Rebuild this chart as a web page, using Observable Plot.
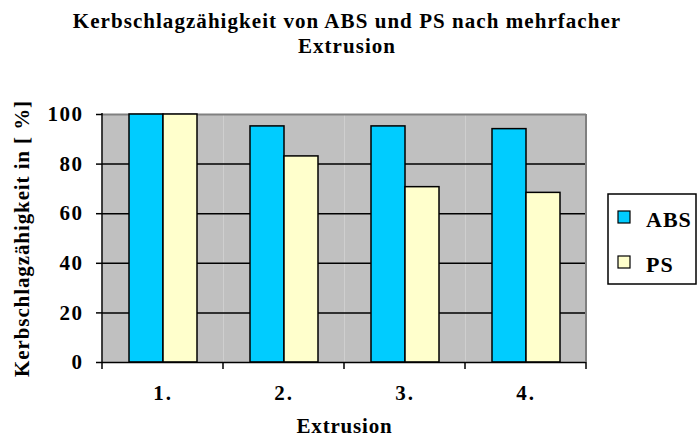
<!DOCTYPE html>
<html><head><meta charset="utf-8">
<script src="https://cdn.jsdelivr.net/npm/d3@7"></script>
<script src="https://cdn.jsdelivr.net/npm/@observablehq/plot@0.6"></script>
<style>
body{margin:0;background:#fff;}
#chart svg{font-family:"Liberation Serif","Times New Roman",serif;font-weight:bold;}
#chart g[aria-label="y-axis tick label"] text{letter-spacing:1.5px;}
#chart g[aria-label="fx-axis tick label"] text{letter-spacing:2px;}
#chart g[aria-label="y-axis label"] text{letter-spacing:0.9px;}
#chart g[aria-label="fx-axis label"] text{letter-spacing:0.8px;}
#chart .title{letter-spacing:1.05px;}
#chart .legend text{letter-spacing:1px;}
</style></head><body><div id="chart"></div>
<script>
const categories = ["1.","2.","3.","4."];
const series = ["ABS","PS"];
const absValues = [100, 95.2, 95.2, 94.1];
const psValues = [100, 83.1, 70.7, 68.4];
const yTicks = [0, 20, 40, 60, 80, 100];
const colors = ["#00ccff", "#ffffcc"];
const titleLines = ["Kerbschlagzähigkeit von ABS und PS nach mehrfacher", "Extrusion"];
const xLabel = "Extrusion";
const yLabel = "Kerbschlagzähigkeit in [ %]";

const data = categories.flatMap((c, i) => [
  {cat: c, series: "ABS", value: absValues[i]},
  {cat: c, series: "PS", value: psValues[i]}
]);

const W = 697, H = 436, mL = 101, mR = 110, mT = 114, mB = 74;
const plot = Plot.plot({
  width: W, height: H, marginLeft: mL, marginRight: mR, marginTop: mT, marginBottom: mB,
  style: {fontFamily: "Liberation Serif", fontWeight: "bold", fontSize: "20px", background: "white", overflow: "visible"},
  fx: {domain: categories, padding: 0},
  x: {domain: series, paddingInner: 0, paddingOuter: 0.743, axis: null},
  y: {domain: [0, 100]},
  color: {domain: series, range: colors},
  marks: [
    Plot.frame({fill: "#c0c0c0", stroke: null}),
    Plot.gridY(yTicks.slice(1, -1), {stroke: "black", strokeOpacity: 1, strokeWidth: 1.5}),
    Plot.ruleY([100], {stroke: "#808080", strokeWidth: 2}),
    Plot.barY(data, {fx: "cat", x: "series", y: "value", fill: "series", stroke: "black", strokeWidth: 1.5}),
    Plot.ruleY([0], {stroke: "black", strokeWidth: 1.5}),
    Plot.axisY(yTicks, {tickSize: 6, tickPadding: 13, stroke: "black", strokeWidth: 1.5, fontSize: 21,
      label: yLabel, labelAnchor: "center", labelOffset: 88, labelArrow: false}),
    Plot.axisFx({anchor: "bottom", tickSize: 0, tickPadding: 23, fontSize: 21,
      label: xLabel, labelAnchor: "center", labelOffset: 70, labelArrow: false})
  ]
});

const svg = d3.select(plot);
const fx = plot.scale("fx");
const ys = plot.scale("y");
const y0 = ys.apply(0), y100 = ys.apply(100);
const bounds = categories.map(c => fx.apply(c)).concat([fx.apply(categories[categories.length - 1]) + fx.bandwidth]);

const g = svg.append("g");
// right border
g.append("line").attr("x1", bounds[bounds.length - 1]).attr("x2", bounds[bounds.length - 1])
  .attr("y1", y100).attr("y2", y0).attr("stroke", "#808080").attr("stroke-width", 2);
// left axis line
g.append("line").attr("x1", bounds[0]).attr("x2", bounds[0])
  .attr("y1", y100 - 1).attr("y2", y0).attr("stroke", "black").attr("stroke-width", 1.5);
// category boundary ticks
g.selectAll("line.bt").data(bounds).join("line").attr("class", "bt")
  .attr("x1", d => d).attr("x2", d => d).attr("y1", y0).attr("y2", y0 + 7)
  .attr("stroke", "black").attr("stroke-width", 1.5);

// title
svg.append("text").attr("class", "title").attr("text-anchor", "middle").attr("font-size", 21)
  .selectAll("tspan").data(titleLines).join("tspan")
  .attr("x", 347).attr("y", (d, i) => 28 + i * 25).text(d => d);

// legend
const lg = svg.append("g").attr("class", "legend");
lg.append("rect").attr("x", 608).attr("y", 194).attr("width", 88).attr("height", 90)
  .attr("fill", "white").attr("stroke", "black").attr("stroke-width", 1.5);
series.forEach((s, i) => {
  lg.append("rect").attr("x", 618).attr("y", 211 + i * 45).attr("width", 12).attr("height", 12)
    .attr("fill", colors[i]).attr("stroke", "black").attr("stroke-width", 1.2);
  lg.append("text").attr("x", 646).attr("y", 227 + i * 45).attr("font-size", 22)
    .attr("text-anchor", "start").text(s);
});

document.getElementById("chart").appendChild(plot);
</script></body></html>
